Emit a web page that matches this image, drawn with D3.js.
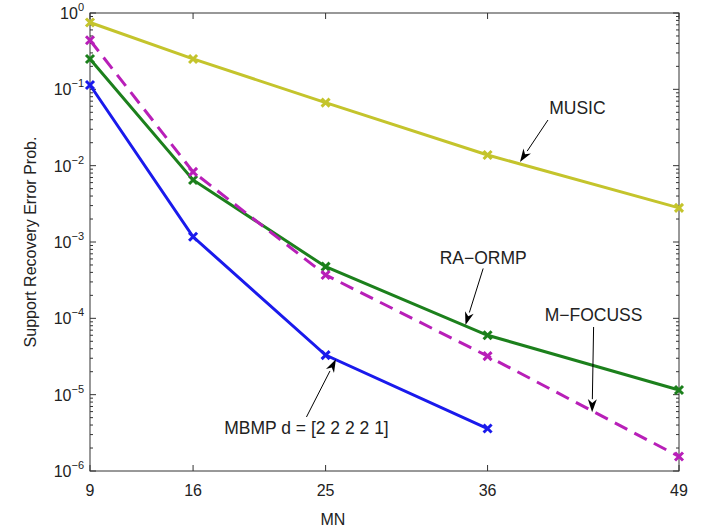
<!DOCTYPE html>
<html>
<head>
<meta charset="utf-8">
<script src="https://cdn.jsdelivr.net/npm/d3@7"></script>
<style>
  body { margin: 0; background: #fff; }
  text { font-family: "Liberation Sans", Arial, sans-serif; fill: #222; }
</style>
</head>
<body>
<div id="chart"></div>
<script>
var WIDTH = 704, HEIGHT = 527,
    margin = {top: 13, right: 25, bottom: 56, left: 90};

// values
var mn = [9, 16, 25, 36, 49];
var music   = [0.75, 0.25, 0.067, 0.0138, 0.0028];
var mfocuss = [0.44, 0.0083, 3.7e-4, 3.2e-5, 1.55e-6];
var raormp  = [0.25, 0.0065, 4.75e-4, 6.0e-5, 1.15e-5];
var mbmp    = [0.114, 1.17e-3, 3.3e-5, 3.6e-6];
var yTicks = [1, 1e-1, 1e-2, 1e-3, 1e-4, 1e-5, 1e-6];

// label text, arrow tail and arrow tip, in data units
var notes = [
  {label: "MUSIC",               tx: 42.1, ty: 0.057,  x0: 40.1, y0: 0.0396, x1: 38.2, y1: 0.0112},
  {label: "RA\u2212ORMP",        tx: 35.7, ty: 6.2e-4, x0: 35.7, y0: 4.5e-4, x1: 34.5, y1: 8.2e-5},
  {label: "M\u2212FOCUSS",       tx: 43.2, ty: 1.1e-4, x0: 43.2, y0: 7.7e-5, x1: 43.1, y1: 5.9e-6},
  {label: "MBMP d = [2 2 2 2 1]", tx: 23.7, ty: 3.66e-6, x0: 23.7, y0: 5.1e-6, x1: 25.7, y1: 2.9e-5}
];

var series = [
  {name: "MUSIC",   values: music,   color: "#c4c42c", dash: null},
  {name: "RA-ORMP", values: raormp,  color: "#1c801c", dash: null},
  {name: "M-FOCUSS", values: mfocuss, color: "#b81fb8", dash: "14,8"},
  {name: "MBMP",    values: mbmp,    color: "#1a1aec", dash: null}
];

var w = WIDTH - margin.left - margin.right,
    h = HEIGHT - margin.top - margin.bottom;

var svg = d3.select("#chart").append("svg")
  .attr("width", WIDTH)
  .attr("height", HEIGHT);

var g = svg.append("g")
  .attr("transform", "translate(" + margin.left + "," + margin.top + ")");

var x = d3.scaleLinear().domain([9, 49]).range([0, w]);
var y = d3.scaleLog().domain([1e-6, 1]).range([h, 0]);

// minor ticks for the log axis
var minor = [];
for (var e = -6; e < 0; e++) {
  for (var k = 2; k <= 9; k++) minor.push(k * Math.pow(10, e));
}

var tickColor = "#333";
// box
g.append("rect").attr("width", w).attr("height", h)
  .attr("fill", "none").attr("stroke", tickColor).attr("stroke-width", 1);

// x ticks (inward, bottom and top)
mn.forEach(function(v) {
  g.append("line").attr("x1", x(v)).attr("x2", x(v)).attr("y1", h).attr("y2", h - 6)
    .attr("stroke", tickColor);
  g.append("line").attr("x1", x(v)).attr("x2", x(v)).attr("y1", 0).attr("y2", 6)
    .attr("stroke", tickColor);
  g.append("text").attr("x", x(v)).attr("y", h + 25)
    .attr("text-anchor", "middle").attr("font-size", 16).text(v);
});

// y ticks
yTicks.forEach(function(v) {
  g.append("line").attr("x1", 0).attr("x2", 6).attr("y1", y(v)).attr("y2", y(v)).attr("stroke", tickColor);
  g.append("line").attr("x1", w).attr("x2", w - 6).attr("y1", y(v)).attr("y2", y(v)).attr("stroke", tickColor);
  var t = g.append("text").attr("x", -6).attr("y", y(v) + 6)
    .attr("text-anchor", "end").attr("font-size", 16);
  var ex = Math.round(Math.log10(v));
  t.append("tspan").text("10");
  t.append("tspan").attr("dy", -8).attr("font-size", 11)
    .text(ex === 0 ? "0" : "\u2212" + Math.abs(ex));
});
minor.forEach(function(v) {
  g.append("line").attr("x1", 0).attr("x2", 3).attr("y1", y(v)).attr("y2", y(v)).attr("stroke", tickColor);
  g.append("line").attr("x1", w).attr("x2", w - 3).attr("y1", y(v)).attr("y2", y(v)).attr("stroke", tickColor);
});

// axis labels
svg.append("text").attr("x", margin.left + x(25.5)).attr("y", HEIGHT - 2)
  .attr("text-anchor", "middle").attr("font-size", 16).text("MN");
svg.append("text")
  .attr("transform", "translate(36," + (margin.top + h / 2) + ") rotate(-90)")
  .attr("text-anchor", "middle").attr("font-size", 16).text("Support Recovery Error Prob.");

// lines and markers
var line = d3.line().x(function(d) { return x(d[0]); }).y(function(d) { return y(d[1]); });

series.forEach(function(s) {
  var pts = s.values.map(function(v, i) { return [mn[i], v]; });
  g.append("path").datum(pts)
    .attr("d", line)
    .attr("fill", "none")
    .attr("stroke", s.color)
    .attr("stroke-width", 3)
    .attr("stroke-dasharray", s.dash);
  var m = 4;
  g.selectAll(null).data(pts).enter().append("path")
    .attr("d", function(d) {
      var cx = x(d[0]), cy = y(d[1]);
      return "M" + (cx - m) + "," + (cy - m) + "L" + (cx + m) + "," + (cy + m) +
             "M" + (cx - m) + "," + (cy + m) + "L" + (cx + m) + "," + (cy - m);
    })
    .attr("stroke", s.color)
    .attr("stroke-width", 3)
    .attr("fill", "none");
});

// annotations with arrows
notes.forEach(function(n) {
  var px0 = x(n.x0), py0 = y(n.y0), px1 = x(n.x1), py1 = y(n.y1);
  var ang = Math.atan2(py1 - py0, px1 - px0);
  var L = 13, W = 4.5;
  var bx = px1 - L * Math.cos(ang), by = py1 - L * Math.sin(ang);
  g.append("line").attr("x1", px0).attr("y1", py0).attr("x2", bx).attr("y2", by)
    .attr("stroke", "#000").attr("stroke-width", 1);
  var nx = -Math.sin(ang) * W, ny = Math.cos(ang) * W;
  var inner = 0.7;
  var ix = px1 - L * inner * Math.cos(ang), iy = py1 - L * inner * Math.sin(ang);
  g.append("path")
    .attr("d", "M" + px1 + "," + py1 + "L" + (bx + nx) + "," + (by + ny) +
               "L" + ix + "," + iy + "L" + (bx - nx) + "," + (by - ny) + "Z")
    .attr("fill", "#000");
  g.append("text").attr("x", x(n.tx)).attr("y", y(n.ty) + 6)
    .attr("text-anchor", "middle").attr("font-size", 17.5).text(n.label);
});
</script>
</body>
</html>
